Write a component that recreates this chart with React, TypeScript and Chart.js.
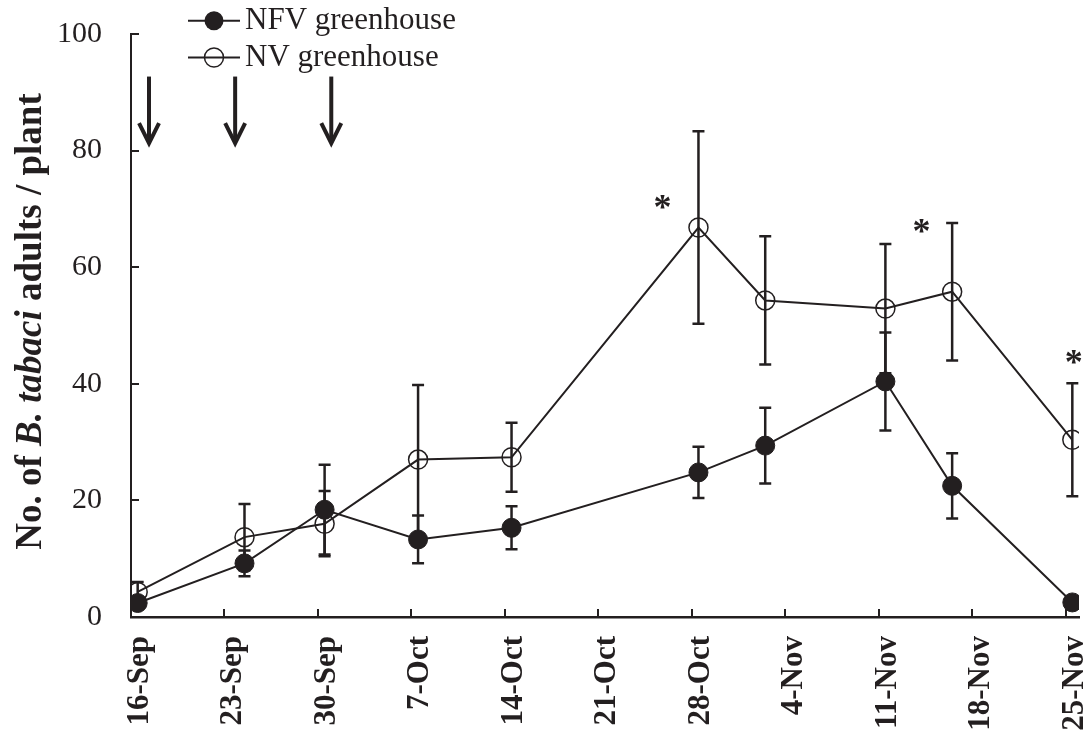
import React, { useEffect, useRef } from 'react';
import { Chart, registerables } from 'chart.js';

Chart.register(...registerables);

// Sampling dates and whitefly counts (mean ± SE per plant)
const sampleDates = ['16-Sep', '24-Sep', '30-Sep', '7-Oct', '14-Oct', '28-Oct', '2-Nov', '11-Nov', '16-Nov', '25-Nov'];
const nfvMeans = [2.4, 9.2, 18.4, 13.3, 15.3, 24.8, 29.4, 40.4, 22.5, 2.5];
const nfvSE = [1.0, 2.2, 7.7, 4.1, 3.7, 4.4, 6.5, 8.4, 5.6, 0.8];
const nvMeans = [4.3, 13.7, 16.0, 27.0, 27.4, 66.8, 54.3, 52.9, 55.8, 30.4];
const nvSE = [1.7, 5.7, 5.6, 12.8, 5.9, 16.5, 11.0, 11.1, 11.8, 9.7];

// Axis ticks
const tickDates = ['16-Sep', '23-Sep', '30-Sep', '7-Oct', '14-Oct', '21-Oct', '28-Oct', '4-Nov', '11-Nov', '18-Nov', '25-Nov'];
const yTickValues = [0, 20, 40, 60, 80, 100];

// Release events (days after 16-Sep) and significance marks (day, count)
const releaseDays = [0.85, 7.3, 14.5];
const starDays = [39.3, 58.7, 70.1];
const starLevels = [71.1, 67.0, 44.6];

const seriesNames = ['NFV greenhouse', 'NV greenhouse'];
const yTitleParts = [
  { text: 'No. of ', italic: false },
  { text: 'B. tabaci', italic: true },
  { text: ' adults / plant', italic: false },
];

const INK = '#231f20';
const SERIF = '"Liberation Serif", "Times New Roman", serif';
const MONTHS: Record<string, number> = { Sep: 8, Oct: 9, Nov: 10 };

// Days elapsed since 16-Sep
function dayOf(label: string): number {
  const [d, m] = label.split('-');
  const t = Date.UTC(2001, MONTHS[m], Number(d));
  const t0 = Date.UTC(2001, 8, 16);
  return Math.round((t - t0) / 86400000);
}

const decorPlugin = {
  id: 'decor',
  beforeDatasetsDraw(chart: any) {
    const { ctx } = chart;
    const xs = chart.scales.x;
    const ys = chart.scales.y;
    ctx.save();
    ctx.strokeStyle = INK;
    ctx.lineWidth = 2.5;
    const bars = (means: number[], se: number[]) => {
      sampleDates.forEach((d, i) => {
        const px = xs.getPixelForValue(dayOf(d));
        const top = ys.getPixelForValue(means[i] + se[i]);
        const bot = ys.getPixelForValue(Math.max(0, means[i] - se[i]));
        ctx.beginPath();
        ctx.moveTo(px, top);
        ctx.lineTo(px, bot);
        ctx.moveTo(px - 6, top);
        ctx.lineTo(px + 6, top);
        ctx.moveTo(px - 6, bot);
        ctx.lineTo(px + 6, bot);
        ctx.stroke();
      });
    };
    bars(nvMeans, nvSE);
    bars(nfvMeans, nfvSE);
    ctx.restore();
  },
  afterDraw(chart: any) {
    const { ctx, chartArea } = chart;
    const xs = chart.scales.x;
    const ys = chart.scales.y;
    ctx.save();
    ctx.strokeStyle = INK;
    ctx.fillStyle = INK;

    // inward tick marks
    ctx.lineWidth = 2;
    ctx.beginPath();
    tickDates.forEach((t) => {
      const px = Math.round(xs.getPixelForValue(dayOf(t) - 0.5));
      ctx.moveTo(px, chartArea.bottom);
      ctx.lineTo(px, chartArea.bottom - 8);
    });
    yTickValues.forEach((v) => {
      const py = Math.round(ys.getPixelForValue(v));
      ctx.moveTo(chartArea.left, py);
      ctx.lineTo(chartArea.left + 8, py);
    });
    ctx.stroke();

    // release arrows
    ctx.lineWidth = 4;
    ctx.lineJoin = 'miter';
    releaseDays.forEach((d) => {
      const px = xs.getPixelForValue(d);
      const top = ys.getPixelForValue(92.7);
      const tip = ys.getPixelForValue(81.1);
      ctx.beginPath();
      ctx.moveTo(px, top);
      ctx.lineTo(px, tip - 2);
      ctx.stroke();
      ctx.beginPath();
      ctx.moveTo(px - 10, tip - 21);
      ctx.lineTo(px, tip - 1);
      ctx.lineTo(px + 10, tip - 21);
      ctx.stroke();
    });

    // significance asterisks
    ctx.font = `bold 36px ${SERIF}`;
    ctx.textAlign = 'center';
    ctx.textBaseline = 'alphabetic';
    const m = ctx.measureText('*');
    const shift = (m.actualBoundingBoxAscent - m.actualBoundingBoxDescent) / 2;
    starDays.forEach((d, i) => {
      ctx.fillText('*', xs.getPixelForValue(d), ys.getPixelForValue(starLevels[i]) + shift);
    });

    // legend
    const rowMid = [20.7, 57.5];
    const rowBase = [29, 65.5];
    seriesNames.forEach((name, i) => {
      ctx.lineWidth = 2;
      ctx.beginPath();
      ctx.moveTo(188, rowMid[i]);
      ctx.lineTo(240, rowMid[i]);
      ctx.stroke();
      ctx.beginPath();
      ctx.arc(214, rowMid[i], 9.5, 0, Math.PI * 2);
      if (i === 0) {
        ctx.fill();
      } else {
        ctx.lineWidth = 1.5;
        ctx.stroke();
      }
      ctx.font = `31px ${SERIF}`;
      ctx.textAlign = 'left';
      ctx.textBaseline = 'alphabetic';
      ctx.fillText(name, 245, rowBase[i]);
    });

    // y-axis title with italic species name
    ctx.translate(41, 321.5);
    ctx.rotate(-Math.PI / 2);
    ctx.textAlign = 'left';
    ctx.textBaseline = 'alphabetic';
    const fontFor = (italic: boolean) => `${italic ? 'italic ' : ''}bold 37px ${SERIF}`;
    const widths = yTitleParts.map((p) => {
      ctx.font = fontFor(p.italic);
      return ctx.measureText(p.text).width;
    });
    let x = -widths.reduce((a, b) => a + b, 0) / 2;
    yTitleParts.forEach((p, i) => {
      ctx.font = fontFor(p.italic);
      ctx.fillText(p.text, x, 0);
      x += widths[i];
    });
    ctx.restore();
  },
};

export default function App() {
  const canvasRef = useRef<HTMLCanvasElement | null>(null);

  useEffect(() => {
    if (!canvasRef.current) return;
    const chart = new Chart(canvasRef.current, {
      type: 'line',
      data: {
        datasets: [
          {
            label: seriesNames[0],
            data: sampleDates.map((d, i) => ({ x: dayOf(d), y: nfvMeans[i] })),
            borderColor: INK,
            backgroundColor: INK,
            borderWidth: 2,
            pointRadius: 9.5,
            pointHoverRadius: 9.5,
            pointBackgroundColor: INK,
            pointBorderColor: INK,
            pointBorderWidth: 1,
            tension: 0,
          },
          {
            label: seriesNames[1],
            data: sampleDates.map((d, i) => ({ x: dayOf(d), y: nvMeans[i] })),
            borderColor: INK,
            backgroundColor: 'rgba(0,0,0,0)',
            borderWidth: 2,
            pointRadius: 9.5,
            pointHoverRadius: 9.5,
            pointBackgroundColor: 'rgba(0,0,0,0)',
            pointBorderColor: INK,
            pointBorderWidth: 1.5,
            tension: 0,
          },
        ],
      },
      options: {
        responsive: false,
        animation: false,
        events: [],
        layout: { padding: { left: 0, right: 12, top: 34, bottom: 0 } },
        plugins: {
          legend: { display: false },
          tooltip: { enabled: false },
        },
        scales: {
          x: {
            type: 'linear',
            min: -0.5,
            max: dayOf(tickDates[tickDates.length - 1]) + 0.5,
            afterBuildTicks: (s: any) => {
              s.ticks = tickDates.map((t) => ({ value: dayOf(t) - 0.5 }));
            },
            afterFit: (s: any) => {
              s.height = 119;
              s.paddingLeft = 0;
              s.paddingRight = 0;
            },
            grid: { display: false },
            border: { display: true, color: INK, width: 2.5 },
            ticks: {
              autoSkip: false,
              minRotation: 90,
              maxRotation: 90,
              padding: 11,
              labelOffset: 9,
              color: INK,
              font: { family: SERIF, size: 31, weight: 'bold' },
              callback: (_v: any, i: number) => tickDates[i],
            },
          },
          y: {
            min: 0,
            max: 100,
            afterFit: (s: any) => {
              s.width = 131;
              s.paddingTop = 0;
              s.paddingBottom = 0;
            },
            grid: { display: false },
            border: { display: true, color: INK, width: 2 },
            ticks: {
              stepSize: 20,
              padding: 21,
              color: INK,
              font: { family: SERIF, size: 30 },
            },
          },
        },
      },
      plugins: [decorPlugin],
    } as any);
    return () => chart.destroy();
  }, []);

  return (
    <div style={{ position: 'absolute', left: 0, top: 0, width: 1091, height: 736, background: '#fff' }}>
      <canvas ref={canvasRef} width={1091} height={736} style={{ display: 'block' }} />
    </div>
  );
}
